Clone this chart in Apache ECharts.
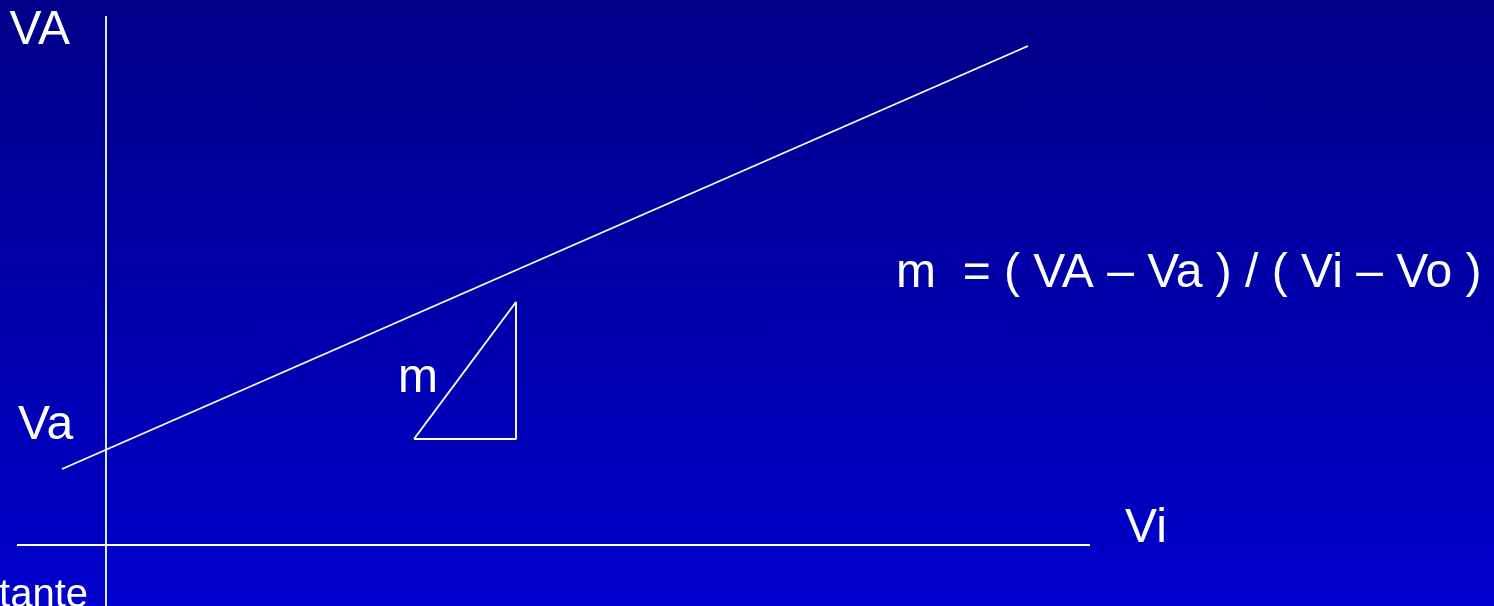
<!DOCTYPE html>
<html>
<head>
<meta charset="utf-8">
<script src="https://cdn.jsdelivr.net/npm/echarts@6/dist/echarts.min.js"></script>
<style>
html,body{margin:0;padding:0;width:1494px;height:606px;overflow:hidden;}
#c{width:1494px;height:606px;background:linear-gradient(to bottom,#000088 0%,#0000CC 100%);}
</style>
</head>
<body>
<div id="c"></div>
<script>
// Data coordinates: origin at the axes crossing, 1 unit = 10 px
const verticalAxisLine = [[0, -6.1], [0, 52.9]];
const horizontalAxisLine = [[-8.9, 0], [98.4, 0]];
const slopeLine = [[-4.4, 7.6], [92.2, 49.9]];
const slopeTriangle = [[30.8, 10.6], [41, 10.6], [41, 24.3], [30.8, 10.6]];
const leftLabels = [
  { name: 'VA', value: [-9.65, 51.4] },
  { name: 'Va', value: [-8.8, 11.9] },
  { name: 'm', value: [29.2, 16.6] },
  { name: 'Vi', value: [101.9, 1.6] },
  { name: 'm  = ( VA – Va ) / ( Vi – Vo )', value: [79.0, 27.15] }
];
const rightLabels = [
  { name: 'tante', value: [-1.8, -5.1] }
];

const chart = echarts.init(document.getElementById('c'), null, { renderer: 'canvas' });
function lineSeries(data, w) {
  return {
    type: 'line', data: data, showSymbol: false, symbol: 'none',
    lineStyle: { color: '#ffffff', width: w, opacity: 1 }, silent: true, clip: false, z: 2
  };
}
function labelSeries(data, align, size) {
  return {
    type: 'scatter', data: data, symbolSize: 0, clip: false, silent: true,
    itemStyle: { color: '#ffffff', opacity: 1 },
    label: {
      show: true, position: 'inside', align: align, verticalAlign: 'middle',
      formatter: p => p.name, color: '#ffffff', opacity: 1,
      textBorderWidth: 0, textShadowBlur: 0,
      fontFamily: 'Liberation Sans, Arial, sans-serif', fontSize: size
    },
    z: 3
  };
}
chart.setOption({
  backgroundColor: 'transparent',
  animation: false,
  grid: { left: 0, right: 0, top: 0, bottom: 0 },
  xAxis: { type: 'value', min: -10.6, max: 138.8, show: false },
  yAxis: { type: 'value', min: -6.1, max: 54.5, show: false },
  series: [
    lineSeries(verticalAxisLine, 1.8),
    lineSeries(horizontalAxisLine, 1.8),
    lineSeries(slopeLine, 1.9),
    lineSeries(slopeTriangle, 1.9),
    labelSeries(leftLabels, 'left', 48),
    labelSeries(rightLabels, 'right', 40)
  ]
});
</script>
</body>
</html>
